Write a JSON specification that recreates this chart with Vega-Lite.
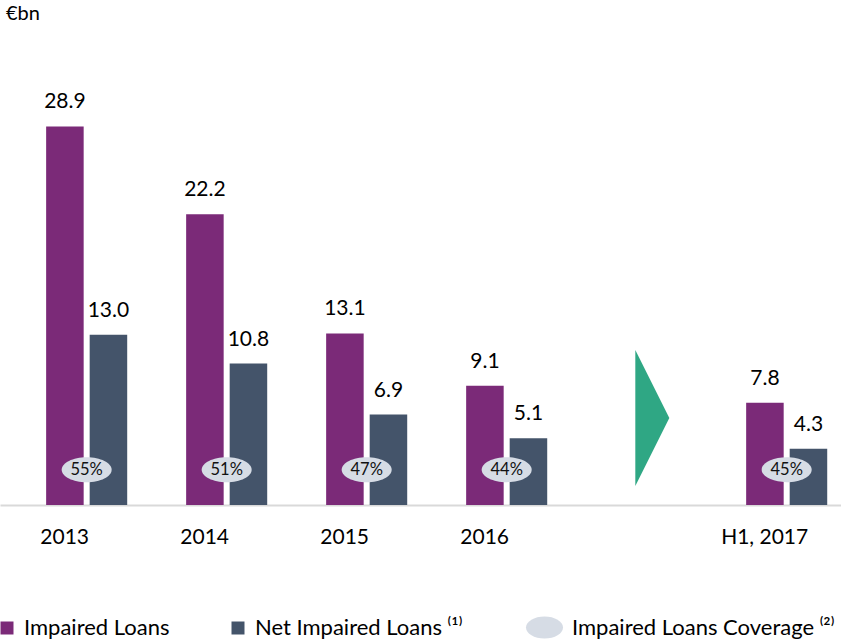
{
  "$schema": "https://vega.github.io/schema/vega-lite/v6.json",
  "width": 841,
  "height": 475,
  "autosize": {"type": "none"},
  "padding": {"left": 0, "top": 30, "right": 0, "bottom": 134},
  "background": "white",
  "config": {
    "view": {"stroke": null},
    "font": "Lato",
    "legend": {"padding": 0}
  },
  "title": {
    "text": "€bn",
    "anchor": "start",
    "frame": "group",
    "fontSize": 20,
    "fontWeight": "normal",
    "font": "Lato",
    "color": "#000000",
    "offset": 6,
    "dx": 6
  },
  "datasets": {
    "bars": [
      {"cat": "2013", "series": "Impaired Loans", "value": 28.9},
      {"cat": "2013", "series": "Net Impaired Loans ⁽¹⁾", "value": 13.0},
      {"cat": "2014", "series": "Impaired Loans", "value": 22.2},
      {"cat": "2014", "series": "Net Impaired Loans ⁽¹⁾", "value": 10.8},
      {"cat": "2015", "series": "Impaired Loans", "value": 13.1},
      {"cat": "2015", "series": "Net Impaired Loans ⁽¹⁾", "value": 6.9},
      {"cat": "2016", "series": "Impaired Loans", "value": 9.1},
      {"cat": "2016", "series": "Net Impaired Loans ⁽¹⁾", "value": 5.1},
      {"cat": "H1, 2017", "series": "Impaired Loans", "value": 7.8},
      {"cat": "H1, 2017", "series": "Net Impaired Loans ⁽¹⁾", "value": 4.3}
    ],
    "coverage": [
      {"cat": "2013", "coverage": "55%"},
      {"cat": "2014", "coverage": "51%"},
      {"cat": "2015", "coverage": "47%"},
      {"cat": "2016", "coverage": "44%"},
      {"cat": "H1, 2017", "coverage": "45%"}
    ],
    "arrow": [
      {"cat": "gap"}
    ]
  },
  "encoding": {
    "x": {
      "field": "cat",
      "type": "nominal",
      "sort": null,
      "scale": {
        "domain": ["2013", "2014", "2015", "2016", "gap", "H1, 2017"],
        "paddingInner": 0.421,
        "paddingOuter": 0.214,
        "align": 0.77
      },
      "axis": {
        "title": null,
        "labelAngle": 0,
        "ticks": false,
        "domainColor": "#D9D9D9",
        "domainWidth": 2,
        "labelPadding": 21,
        "labelOffset": -22,
        "labelFontSize": 21,
        "labelFont": "Lato",
        "labelColor": "#000000",
        "labelExpr": "datum.value == 'gap' ? '' : datum.value"
      }
    }
  },
  "layer": [
    {
      "data": {"name": "bars"},
      "mark": {"type": "bar"},
      "encoding": {
        "xOffset": {
          "field": "series",
          "type": "nominal",
          "sort": null,
          "scale": {"domain": ["Impaired Loans", "Net Impaired Loans ⁽¹⁾"], "paddingInner": 0.138, "paddingOuter": 0}
        },
        "y": {
          "field": "value",
          "type": "quantitative",
          "scale": {"domain": [0, 36.26], "nice": false, "zero": true},
          "axis": null
        },
        "color": {
          "field": "series",
          "type": "nominal",
          "scale": {"domain": ["Impaired Loans", "Net Impaired Loans ⁽¹⁾"], "range": ["#7B2A78", "#44546A"]},
          "legend": {
            "title": null,
            "orient": "none",
            "direction": "horizontal",
            "legendX": -4,
            "legendY": 587,
            "symbolType": "square",
            "symbolSize": 169,
            "symbolOpacity": 1,
            "symbolStrokeWidth": 0,
            "labelFontSize": 22,
            "labelFont": "Lato",
            "labelColor": "#000000",
            "labelOffset": 6,
            "columnPadding": 57,
            "labelLimit": 400
          }
        }
      }
    },
    {
      "data": {"name": "bars"},
      "mark": {"type": "text", "baseline": "alphabetic", "dy": -18, "fontSize": 21, "font": "Lato", "color": "#000000"},
      "encoding": {
        "xOffset": {"field": "series", "type": "nominal", "sort": null},
        "y": {"field": "value", "type": "quantitative"},
        "text": {"field": "value", "type": "quantitative", "format": ".1f"}
      }
    },
    {
      "data": {"name": "coverage"},
      "mark": {
        "type": "point",
        "shape": "M-1,0A1,0.5 0 1,1 1,0A1,0.5 0 1,1 -1,0Z",
        "size": 2500,
        "filled": true,
        "opacity": 1,
        "strokeWidth": 0
      },
      "encoding": {
        "y": {"datum": 2.7, "type": "quantitative"},
        "fill": {
          "datum": "Impaired Loans Coverage ⁽²⁾",
          "type": "nominal",
          "scale": {"range": ["#D6DCE5"]},
          "legend": {
            "title": null,
            "orient": "none",
            "legendX": 526,
            "legendY": 579,
            "symbolType": "M-1,0A1,0.6 0 1,1 1,0A1,0.6 0 1,1 -1,0Z",
            "symbolSize": 1369,
            "symbolOpacity": 1,
            "symbolStrokeWidth": 0,
            "labelFontSize": 22,
            "labelFont": "Lato",
            "labelColor": "#000000",
            "labelOffset": 9,
            "labelLimit": 400
          }
        }
      }
    },
    {
      "data": {"name": "coverage"},
      "mark": {"type": "text", "baseline": "middle", "fontSize": 16.5, "font": "Lato", "color": "#111111"},
      "encoding": {
        "y": {"datum": 2.7, "type": "quantitative"},
        "text": {"field": "coverage", "type": "nominal"}
      }
    },
    {
      "data": {"name": "arrow"},
      "mark": {
        "type": "point",
        "shape": "M-0.67,-4L1.33,0L-0.67,4Z",
        "size": 1156,
        "filled": true,
        "opacity": 1,
        "strokeWidth": 0,
        "color": "#2FA784"
      },
      "encoding": {
        "y": {"datum": 6.64, "type": "quantitative"}
      }
    }
  ],
  "resolve": {"legend": {"color": "independent", "fill": "independent"}}
}
